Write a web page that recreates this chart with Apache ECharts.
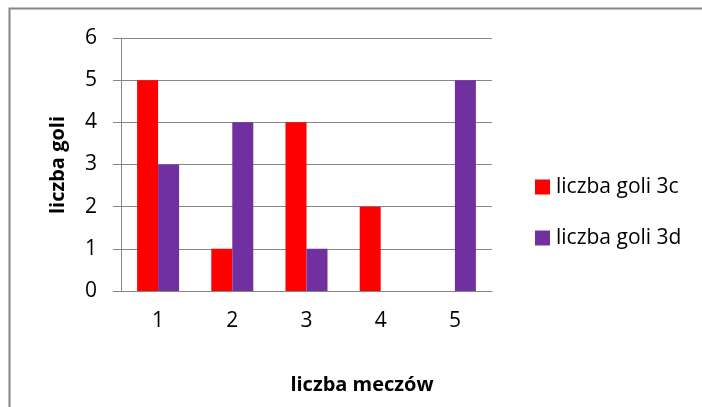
<!DOCTYPE html>
<html>
<head>
<meta charset="utf-8">
<script src="https://cdn.jsdelivr.net/npm/echarts@6/dist/echarts.min.js"></script>
<style>
  html, body { margin: 0; padding: 0; background: #fff; }
  #chart { width: 702px; height: 407px; }
</style>
</head>
<body>
<div id="chart"></div>
<script>
// dane z wykresu
const mecze = ['1', '2', '3', '4', '5']
const gole3c = [5, 1, 4, 2, 0]
const gole3d = [3, 4, 1, 0, 5]
const seriesNames = ['liczba goli 3c', 'liczba goli 3d']
const yTitle = 'liczba goli'
const xTitle = 'liczba meczów'

const font = '"Open Sans", sans-serif'
const axisColor = '#868686'

let myChart = echarts.init(document.getElementById('chart'))
myChart.setOption({
  animation: false,
  color: ['#ff0000', '#7030a0'],
  textStyle: { fontFamily: font },
  grid: { left: 121, top: 38, width: 371, height: 253, containLabel: false },
  legend: {
    data: seriesNames,
    orient: 'vertical',
    left: 535,
    top: 176,
    padding: 0,
    icon: 'rect',
    itemWidth: 15,
    itemHeight: 15,
    itemGap: 29,
    textStyle: { fontFamily: font, fontSize: 21, color: '#000', lineHeight: 22, padding: [0, 0, 0, 1] }
  },
  xAxis: {
    type: 'category',
    data: mecze,
    axisLine: { lineStyle: { color: axisColor, width: 1 } },
    axisTick: { show: false },
    axisLabel: { margin: 20, fontSize: 21, color: '#000', fontFamily: font }
  },
  yAxis: {
    type: 'value',
    min: 0,
    max: 6,
    interval: 1,
    axisLine: { show: true, lineStyle: { color: axisColor, width: 1 } },
    axisTick: { show: true, length: 8, lineStyle: { color: axisColor } },
    splitLine: { lineStyle: { color: axisColor, width: 1 } },
    axisLabel: { margin: 24, fontSize: 21, color: '#000', fontFamily: font }
  },
  graphic: [
    {
      type: 'rect',
      shape: { x: 9.5, y: 8.5, width: 720, height: 420 },
      style: { fill: 'none', stroke: '#868686', lineWidth: 2 },
      silent: true
    },
    {
      type: 'text',
      x: 58,
      y: 165,
      rotation: Math.PI / 2,
      style: {
        text: yTitle,
        font: 'bold 20px ' + font,
        fill: '#000',
        align: 'center',
        verticalAlign: 'middle'
      }
    },
    {
      type: 'text',
      x: 362,
      y: 385,
      style: {
        text: xTitle,
        font: 'bold 20px ' + font,
        fill: '#000',
        align: 'center',
        verticalAlign: 'middle'
      }
    }
  ],
  series: [
    { name: seriesNames[0], type: 'bar', data: gole3c, barWidth: 21, barGap: '0%' },
    { name: seriesNames[1], type: 'bar', data: gole3d, barWidth: 21, barGap: '0%' }
  ]
})
</script>
</body>
</html>
